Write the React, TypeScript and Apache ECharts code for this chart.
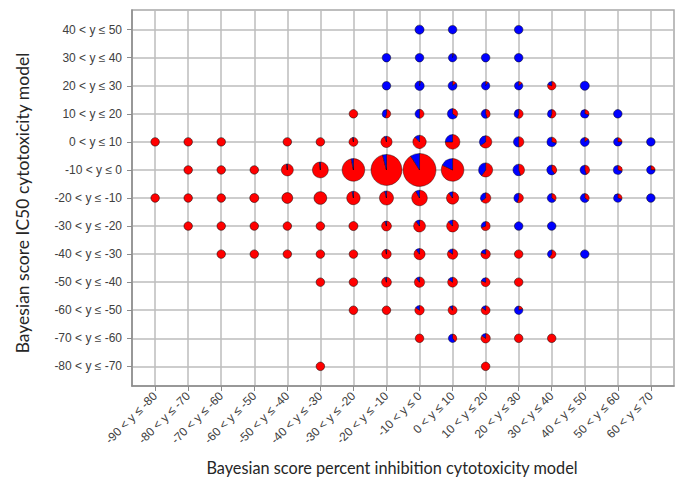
import React, { useEffect, useRef } from "react";
import * as echarts from "echarts";

const xCategories = [
  "-90 < y ≤ -80", "-80 < y ≤ -70", "-70 < y ≤ -60", "-60 < y ≤ -50",
  "-50 < y ≤ -40", "-40 < y ≤ -30", "-30 < y ≤ -20", "-20 < y ≤ -10",
  "-10 < y ≤ 0", "0 < y ≤ 10", "10 < y ≤ 20", "20 < y ≤ 30",
  "30 < y ≤ 40", "40 < y ≤ 50", "50 < y ≤ 60", "60 < y ≤ 70",
];

const yCategories = [
  "-80 < y ≤ -70", "-70 < y ≤ -60", "-60 < y ≤ -50", "-50 < y ≤ -40",
  "-40 < y ≤ -30", "-30 < y ≤ -20", "-20 < y ≤ -10", "-10 < y ≤ 0",
  "0 < y ≤ 10", "10 < y ≤ 20", "20 < y ≤ 30", "30 < y ≤ 40", "40 < y ≤ 50",
];

const xTitle = "Bayesian score percent inhibition cytotoxicity model";
const yTitle = "Bayesian score IC50 cytotoxicity model";

// Each row: [x category index, total count, % blue]
const rowM80 = [[5, 8, 0], [10, 8, 0]];
const rowM70 = [[8, 8, 0], [9, 8, 60], [10, 10, 15], [11, 8, 0], [12, 8, 0]];
const rowM60 = [[6, 8, 0], [7, 8, 0], [8, 10, 15], [9, 9, 10], [10, 9, 15], [11, 8, 80]];
const rowM50 = [[5, 8, 0], [6, 8, 0], [7, 11, 5], [8, 12, 10], [9, 11, 15], [10, 9, 20], [11, 8, 0]];
const rowM40 = [
  [2, 8, 0], [3, 8, 0], [4, 8, 0], [5, 8, 0], [6, 8, 0], [7, 10, 3],
  [8, 14, 10], [9, 12, 15], [10, 10, 20], [11, 8, 0], [12, 8, 40], [13, 8, 100],
];
const rowM30 = [
  [1, 8, 0], [2, 8, 0], [3, 8, 0], [4, 8, 0], [5, 8, 0], [6, 9, 0], [7, 11, 5],
  [8, 16, 10], [9, 16, 12], [10, 9, 30], [11, 8, 100], [12, 8, 100],
];
const rowM20 = [
  [0, 8, 0], [1, 8, 0], [2, 8, 0], [3, 9, 0], [4, 13, 0], [5, 18, 0], [6, 20, 3],
  [7, 22, 4], [8, 27, 8], [9, 17, 10], [10, 12, 35], [11, 10, 45], [12, 9, 65],
  [13, 9, 65], [14, 8, 70], [15, 8, 100],
];
const rowM10 = [
  [1, 8, 0], [2, 8, 0], [3, 8, 0], [4, 16, 2], [5, 28, 2], [6, 57, 3], [7, 107, 4],
  [8, 121, 9], [9, 57, 18], [10, 22, 40], [11, 15, 55], [12, 11, 60], [13, 10, 55],
  [14, 9, 70], [15, 8, 75],
];
const row0 = [
  [0, 8, 0], [1, 8, 0], [2, 8, 0], [4, 8, 0], [5, 8, 0], [6, 9, 3], [7, 14, 5],
  [8, 20, 12], [9, 24, 25], [10, 17, 35], [11, 12, 50], [12, 10, 70], [13, 9, 85],
  [14, 8, 75], [15, 8, 100],
];
const row10 = [
  [6, 8, 0], [7, 8, 45], [8, 9, 50], [9, 12, 65], [10, 9, 55], [11, 9, 45],
  [12, 8, 45], [13, 8, 70], [14, 8, 100],
];
const row20 = [[7, 8, 100], [8, 10, 95], [9, 9, 85], [10, 8, 90], [11, 8, 85], [12, 8, 20], [13, 9, 100]];
const row30 = [[7, 8, 100], [8, 8, 100], [9, 8, 95], [10, 8, 100], [11, 8, 100]];
const row40 = [[8, 9, 100], [9, 8, 100], [11, 8, 100]];

const rows = [rowM80, rowM70, rowM60, rowM50, rowM40, rowM30, rowM20, rowM10, row0, row10, row20, row30, row40];

export default function App() {
  const ref = useRef<HTMLDivElement>(null);
  useEffect(() => {
    if (!ref.current) return;
    const chart = echarts.init(ref.current, undefined, { renderer: "svg" });
    const data: number[][] = [];
    rows.forEach((row, yi) => row.forEach(([xi, n, b]) => data.push([xi, yi, n, b])));
    const xTicks = xCategories.map((_, i) => i);
    const yTicks = yCategories.map((_, i) => i);
    const labelFont = { fontSize: 12, color: "#404040", fontFamily: "'Liberation Sans', Arial, sans-serif" };
    chart.setOption({
      animation: false,
      grid: {
        left: 132, right: 11, top: 10, bottom: 105,
        show: true, borderColor: "#a8a8a8", borderWidth: 1.5, backgroundColor: "#fff",
      },
      xAxis: {
        type: "value", min: -0.7, max: 15.7,
        axisLine: { show: true, onZero: false, lineStyle: { color: "#8c8c8c", width: 1.5 } },
        axisTick: { show: true, customValues: xTicks, length: 5, lineStyle: { color: "#8c8c8c" } },
        axisLabel: {
          customValues: xTicks, rotate: 45, margin: 8, ...labelFont,
          formatter: (v: number) => xCategories[Math.round(v)] ?? "",
        },
        splitLine: { show: true, lineStyle: { color: "#bcbcbc", width: 1.5 } },
      },
      yAxis: {
        type: "value", min: -0.7, max: 12.7,
        axisLine: { show: true, onZero: false, lineStyle: { color: "#8c8c8c", width: 1.5 } },
        axisTick: { show: true, customValues: yTicks, length: 5, lineStyle: { color: "#8c8c8c" } },
        axisLabel: {
          customValues: yTicks, margin: 10, ...labelFont,
          formatter: (v: number) => yCategories[Math.round(v)] ?? "",
        },
        splitLine: { show: true, lineStyle: { color: "#bcbcbc", width: 1.5 } },
      },
      graphic: [
        {
          type: "text", x: 392, y: 467,
          style: {
            text: xTitle, fontSize: 16.3, fontFamily: "Lato, sans-serif", fill: "#262626",
            align: "center", verticalAlign: "middle",
          },
        },
        {
          type: "text", x: 22, y: 203, rotation: Math.PI / 2,
          style: {
            text: yTitle, fontSize: 17.5, fontFamily: "Lato, sans-serif", fill: "#262626",
            align: "center", verticalAlign: "middle",
          },
        },
      ],
      series: [
        {
          type: "custom",
          data,
          renderItem: (params: any, api: any) => {
            const xi = api.value(0);
            const yi = api.value(1);
            const n = api.value(2);
            const b = api.value(3);
            const [cx, cy] = api.coord([xi, yi]);
            const r = 1.5 * Math.sqrt(n);
            const redFrac = 1 - b / 100;
            const stroke = "rgba(0,0,0,0.5)";
            const start = -Math.PI / 2;
            const children: any[] = [];
            if (redFrac >= 1 || redFrac <= 0) {
              children.push({
                type: "circle", shape: { cx, cy, r },
                style: { fill: redFrac >= 1 ? "#ff0000" : "#0000ff", stroke, lineWidth: 1 },
              });
            } else {
              const mid = start + 2 * Math.PI * redFrac;
              children.push({
                type: "sector",
                shape: { cx, cy, r0: 0, r, startAngle: start, endAngle: mid, clockwise: true },
                style: { fill: "#ff0000", stroke, lineWidth: 0.8 },
              });
              children.push({
                type: "sector",
                shape: { cx, cy, r0: 0, r, startAngle: mid, endAngle: start + 2 * Math.PI, clockwise: true },
                style: { fill: "#0000ff", stroke, lineWidth: 0.8 },
              });
            }
            return { type: "group", children };
          },
        },
      ],
    });
    return () => chart.dispose();
  }, []);
  return <div ref={ref} style={{ position: "absolute", left: 0, top: 0, width: 685, height: 491 }} />;
}
